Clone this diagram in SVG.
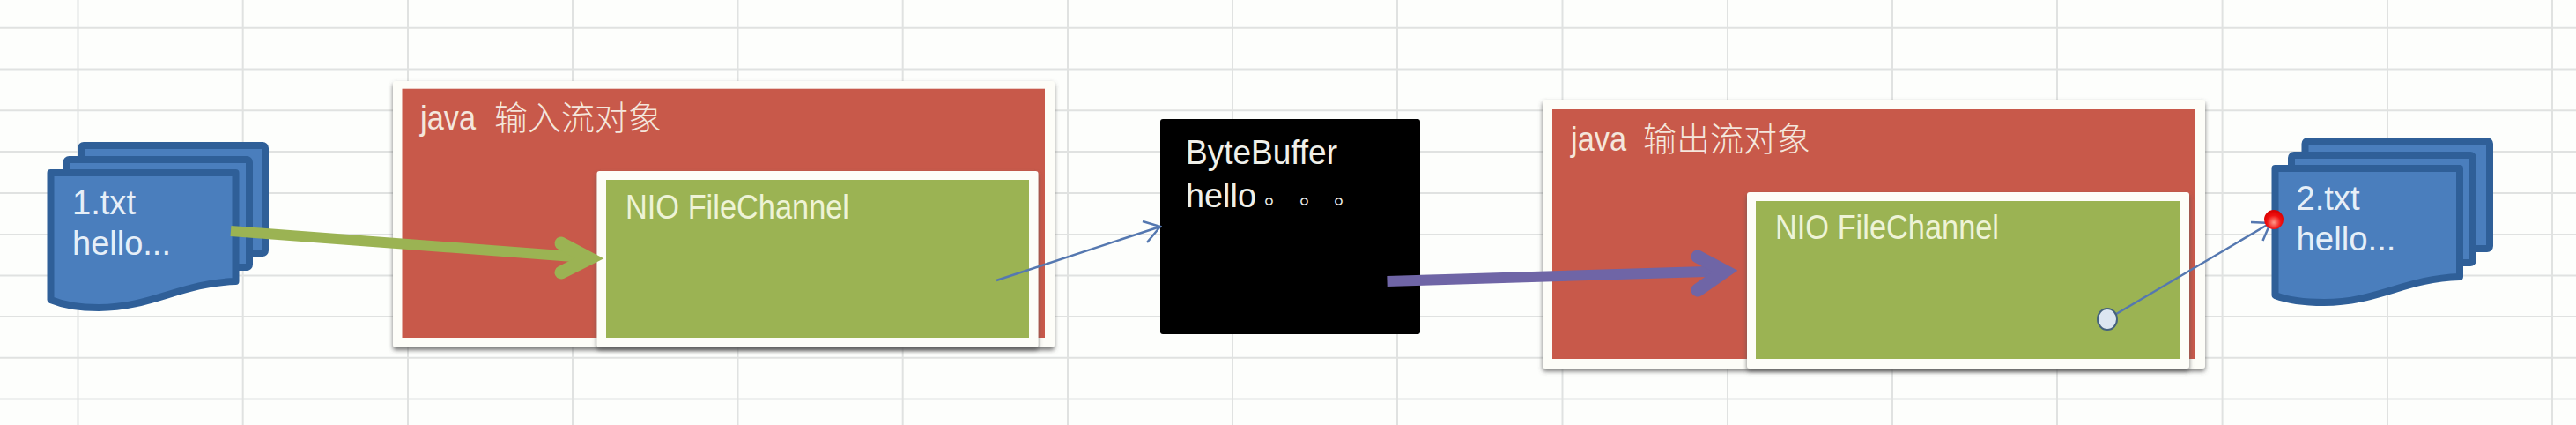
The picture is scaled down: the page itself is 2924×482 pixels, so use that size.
<svg xmlns="http://www.w3.org/2000/svg" width="2924" height="482" viewBox="0 0 2924 482">
<defs>
<style>
.bg{fill:#fdfefc}
.grid line{stroke:#e0e2e1;stroke-width:2}
.frame{fill:#fdfdf8;filter:url(#sh)}
.red{fill:#c8594a}
.green{fill:#9bb353}
.sheet{fill:#4a7ebd;stroke:#2f5f98;stroke-width:8;stroke-linejoin:round}
text{font-family:"Liberation Sans","Noto Sans CJK SC",sans-serif}
.t{font-size:38px;fill:#f4e6dc}
.tg{font-size:38px;fill:#eef3d6}
.td{font-size:38px;fill:#e6eff8}
.tb{font-size:38px;fill:#f0f0ea}
.cjk{font-weight:300}
.dot{font-size:28px}
.thin{fill:none;stroke:#5578b0;stroke-width:2.500}
.fat{fill:none;stroke-width:12;stroke-linejoin:round;stroke-linecap:butt}
.head{fill:none;stroke-width:15;stroke-linejoin:miter;stroke-linecap:round}
</style>
<filter id="sh" x="-5%" y="-5%" width="110%" height="112%"><feDropShadow dx="0" dy="3" stdDeviation="2.500" flood-color="#555" flood-opacity="0.8"/></filter>
<radialGradient id="ball" cx="50%" cy="65%" r="60%"><stop offset="0" stop-color="#ff9a8a"/><stop offset="0.6" stop-color="#f01010"/><stop offset="1" stop-color="#d80000"/></radialGradient>
</defs>
<rect class="bg" width="2924" height="482"/>
<g class="grid">
<line x1="0" y1="31.700" x2="2924" y2="31.700"/><line x1="0" y1="78.500" x2="2924" y2="78.500"/><line x1="0" y1="125.300" x2="2924" y2="125.300"/><line x1="0" y1="172" x2="2924" y2="172"/><line x1="0" y1="219" x2="2924" y2="219"/><line x1="0" y1="266" x2="2924" y2="266"/><line x1="0" y1="312.500" x2="2924" y2="312.500"/><line x1="0" y1="359" x2="2924" y2="359"/><line x1="0" y1="405.700" x2="2924" y2="405.700"/><line x1="0" y1="452.500" x2="2924" y2="452.500"/>
<line x1="88.500" y1="0" x2="88.500" y2="482"/><line x1="275.700" y1="0" x2="275.700" y2="482"/><line x1="463" y1="0" x2="463" y2="482"/><line x1="650" y1="0" x2="650" y2="482"/><line x1="837.500" y1="0" x2="837.500" y2="482"/><line x1="1024.700" y1="0" x2="1024.700" y2="482"/><line x1="1212" y1="0" x2="1212" y2="482"/><line x1="1399" y1="0" x2="1399" y2="482"/><line x1="1586" y1="0" x2="1586" y2="482"/><line x1="1773.500" y1="0" x2="1773.500" y2="482"/><line x1="1961" y1="0" x2="1961" y2="482"/><line x1="2148" y1="0" x2="2148" y2="482"/><line x1="2335" y1="0" x2="2335" y2="482"/><line x1="2522.600" y1="0" x2="2522.600" y2="482"/><line x1="2710" y1="0" x2="2710" y2="482"/><line x1="2897" y1="0" x2="2897" y2="482"/>
</g>
<g id="doc1">
<rect class="sheet" x="92" y="165" width="209" height="122" rx="3"/>
<rect class="sheet" x="75.500" y="181" width="207.500" height="122" rx="3"/>
<path class="sheet" d="M57.500,196H267.500V319C205,321 172,349 112,349C92,349 72,346 57.500,340Z"/>
<text class="td" x="82" y="243" textLength="72" lengthAdjust="spacingAndGlyphs">1.txt</text>
<text class="td" x="82" y="289" textLength="112" lengthAdjust="spacingAndGlyphs">hello...</text>
</g>
<g id="input-stream">
<rect class="frame" x="446" y="92" width="751" height="302" rx="3"/>
<rect class="red" x="456.500" y="100.700" width="729.500" height="282.300"/>
<text class="t" y="147"><tspan x="477" textLength="63" lengthAdjust="spacingAndGlyphs">java</tspan><tspan class="cjk" x="561">输入流对象</tspan></text>
</g>
<g id="input-channel">
<rect class="frame" x="677.500" y="194" width="501" height="200" rx="3"/>
<rect class="green" x="688" y="204" width="480" height="179"/>
<text class="tg" x="710" y="248" textLength="254" lengthAdjust="spacingAndGlyphs">NIO FileChannel</text>
</g>
<g id="byte-buffer">
<rect x="1317" y="135" width="295" height="244" rx="3" fill="#000"/>
<text class="tb" x="1346" y="186" textLength="172" lengthAdjust="spacingAndGlyphs">ByteBuffer</text>
<text class="tb" y="235"><tspan x="1346" textLength="80" lengthAdjust="spacingAndGlyphs">hello</tspan><tspan class="dot" x="1435" y="231">。</tspan><tspan class="dot" x="1475" y="231">。</tspan><tspan class="dot" x="1514" y="231">。</tspan></text>
</g>
<g id="output-stream">
<rect class="frame" x="1751" y="113" width="752" height="305" rx="3"/>
<rect class="red" x="1762" y="124" width="730" height="283"/>
<text class="t" y="171"><tspan x="1783" textLength="63" lengthAdjust="spacingAndGlyphs">java</tspan><tspan class="cjk" x="1865">输出流对象</tspan></text>
</g>
<g id="output-channel">
<rect class="frame" x="1983" y="218" width="502" height="200" rx="3"/>
<rect class="green" x="1993" y="228" width="481" height="179"/>
<text class="tg" x="2015" y="271" textLength="254" lengthAdjust="spacingAndGlyphs">NIO FileChannel</text>
</g>
<g id="doc2">
<rect class="sheet" x="2616.500" y="160" width="209.500" height="122" rx="3"/>
<rect class="sheet" x="2601" y="176" width="206" height="122" rx="3"/>
<path class="sheet" d="M2582.500,191H2792V314C2730,316 2698,343 2638,343C2618,343 2598,341 2582.500,335Z"/>
<text class="td" x="2606.500" y="238" textLength="72" lengthAdjust="spacingAndGlyphs">2.txt</text>
<text class="td" x="2606.500" y="284" textLength="113" lengthAdjust="spacingAndGlyphs">hello...</text>
</g>
<g id="connectors">
<g stroke="#9bb353">
<path class="fat" d="M262,262L664,292"/>
<path class="head" d="M637,276L669,293L637,309"/>
</g>
<path class="thin" d="M1131,318L1317,257M1297,251L1317,257L1302,275"/>
<g stroke="#6f65a6">
<path class="fat" d="M1574.500,319L1953,307.500"/>
<path class="head" d="M1927,291L1958,307.500L1927,329"/>
</g>
<path class="thin" d="M2392,362L2577,253M2555,252L2577,253L2568.500,273"/>
<ellipse cx="2392" cy="362" rx="11" ry="12" fill="#dce6f1" stroke="#45627e" stroke-width="2"/>
<circle cx="2581" cy="249" r="11" fill="url(#ball)"/>
</g>
</svg>
